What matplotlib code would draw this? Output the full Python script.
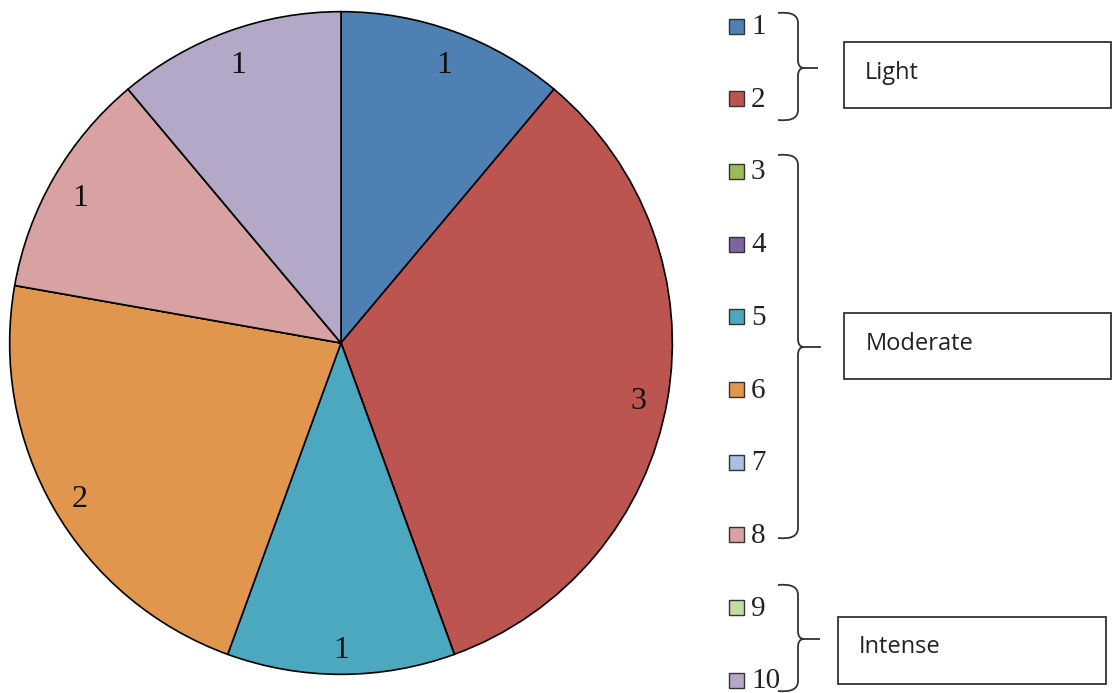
import matplotlib.pyplot as plt
from matplotlib.patches import Rectangle, PathPatch
from matplotlib.path import Path

categories = ["1", "2", "3", "4", "5", "6", "7", "8", "9", "10"]
counts = [1, 3, 0, 0, 1, 2, 0, 1, 0, 1]
colors = ["#4f80b4", "#bc5550", "#9bbb59", "#8064a2", "#4ca8be",
          "#e0964c", "#a8c0e4", "#d8a2a2", "#c4dca4", "#b4a8c8"]
groups = ["Light", "Moderate", "Intense"]

W, H = 1116, 693
fig = plt.figure(figsize=(W / 100, H / 100), dpi=100)

# pie, center ~(341, 343) px, radius ~333 px
cx, cy, r = 341, 343, 333
ax = fig.add_axes([(cx - r) / W, (H - cy - r) / H, 2 * r / W, 2 * r / H])
labels = [str(c) if c > 0 else "" for c in counts]
wedges, texts = ax.pie(counts, labels=labels, colors=colors, startangle=90,
                       counterclock=False, labeldistance=0.91,
                       wedgeprops=dict(edgecolor="black", linewidth=1.2),
                       textprops=dict(family="Liberation Serif", fontsize=23,
                                      color="#111111"))
for t in texts:
    t.set_horizontalalignment("center")
    t.set_verticalalignment("center")
    x, y = t.get_position()
    t.set_position((x, y - 0.018))
ax.set_xlim(-1.005, 1.005)
ax.set_ylim(-1.005, 1.005)
ax.set_aspect("equal")

# legend + braces drawn in pixel coordinates
lax = fig.add_axes([0, 0, 1, 1])
lax.set_xlim(0, W)
lax.set_ylim(H, 0)
lax.axis("off")

y0, dy = 26, 72.7
for i, (cat, col) in enumerate(zip(categories, colors)):
    y = y0 + i * dy
    lax.add_patch(Rectangle((729, y - 7.5), 15, 15, facecolor=col,
                            edgecolor="#333333", linewidth=1.0))
    lax.text(751, y + 1, cat, family="Liberation Serif", fontsize=21,
             va="center", ha="left", color="#222222")


def brace(top, bot, mid, xt, x0=778, xv=798):
    verts = [(x0, top), (xv, top - 2), (xv, top + 10),
             (xv, mid - 8), (xv, mid), (xv + 6, mid), (xt, mid),
             (xv + 6, mid), (xv, mid), (xv, mid + 8),
             (xv, bot - 10), (xv, bot + 2), (x0, bot)]
    codes = [Path.MOVETO, Path.CURVE3, Path.CURVE3,
             Path.LINETO, Path.CURVE3, Path.CURVE3, Path.LINETO,
             Path.MOVETO, Path.CURVE3, Path.CURVE3,
             Path.LINETO, Path.CURVE3, Path.CURVE3]
    lax.add_patch(PathPatch(Path(verts, codes), facecolor="none",
                            edgecolor="#333333", linewidth=1.3))


# brace extents (top, bottom, tip y, tip x) and boxes (x, y, w, h, text x, text y)
brace_geo = [(13, 120, 68, 818), (155, 538, 347, 821), (585, 691, 639, 820)]
box_geo = [(844, 42, 267, 66, 865, 73), (844, 313, 267, 66, 866, 344),
           (838, 617, 268, 67, 859, 647)]
for g, bg, (bx, by, bw, bh, tx, ty) in zip(groups, brace_geo, box_geo):
    brace(*bg)
    lax.add_patch(Rectangle((bx, by), bw, bh, facecolor="white",
                            edgecolor="#333333", linewidth=1.3))
    lax.text(tx, ty, g, family="Open Sans", fontsize=17,
             va="center", ha="left", color="#222222")

fig.savefig("out.png", dpi=100)
